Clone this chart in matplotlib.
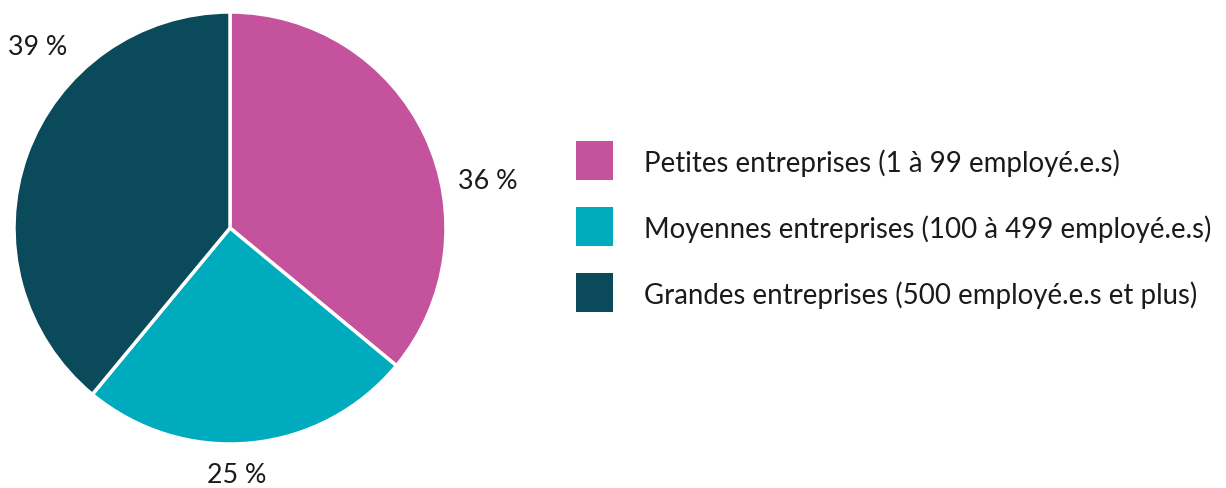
import matplotlib.pyplot as plt
from matplotlib.patches import Rectangle

categories = ["Petites entreprises (1 à 99 employé.e.s)",
              "Moyennes entreprises (100 à 499 employé.e.s)",
              "Grandes entreprises (500 employé.e.s et plus)"]
values = [36, 25, 39]
colors = ['#C4529C', '#00ABBD', '#0A4A5A']

plt.rcParams['font.family'] = ['Lato', 'DejaVu Sans']

W, H = 1226, 489
fig = plt.figure(figsize=(W / 100, H / 100), dpi=100)

# pie axes: centre (230, 229), radius 216 px
cx, cy, r = 230, 229, 216
ax = fig.add_axes([(cx - r) / W, (H - cy - r) / H, 2 * r / W, 2 * r / H])
ax.pie(values, colors=colors, startangle=90, counterclock=False, radius=1,
       wedgeprops=dict(edgecolor='white', linewidth=2.5))
ax.set_xlim(-1, 1)
ax.set_ylim(-1, 1)
ax.set_aspect('equal')

# label positions (in pie radius units)
label_pos = [(1.194, 0.222), (0.032, -1.139), (-0.889, 0.838)]
for v, (x, y) in zip(values, label_pos):
    ax.text(x, y, f"{v} %", ha='center', va='center', fontsize=19.3, color='#1a1a1a',
            clip_on=False)

# legend drawn by hand: squares + text
for i, (lab, c) in enumerate(zip(categories, colors)):
    top = 142 + i * 66
    fig.patches.append(Rectangle((576 / W, 1 - (top + 39) / H), 37 / W, 39 / H,
                                 transform=fig.transFigure, facecolor=c, edgecolor='none'))
    fig.text(644 / W, 1 - (top + 30) / H, lab, fontsize=19.9, color='#1a1a1a',
             ha='left', va='baseline')

fig.savefig("out.png", dpi=100)
